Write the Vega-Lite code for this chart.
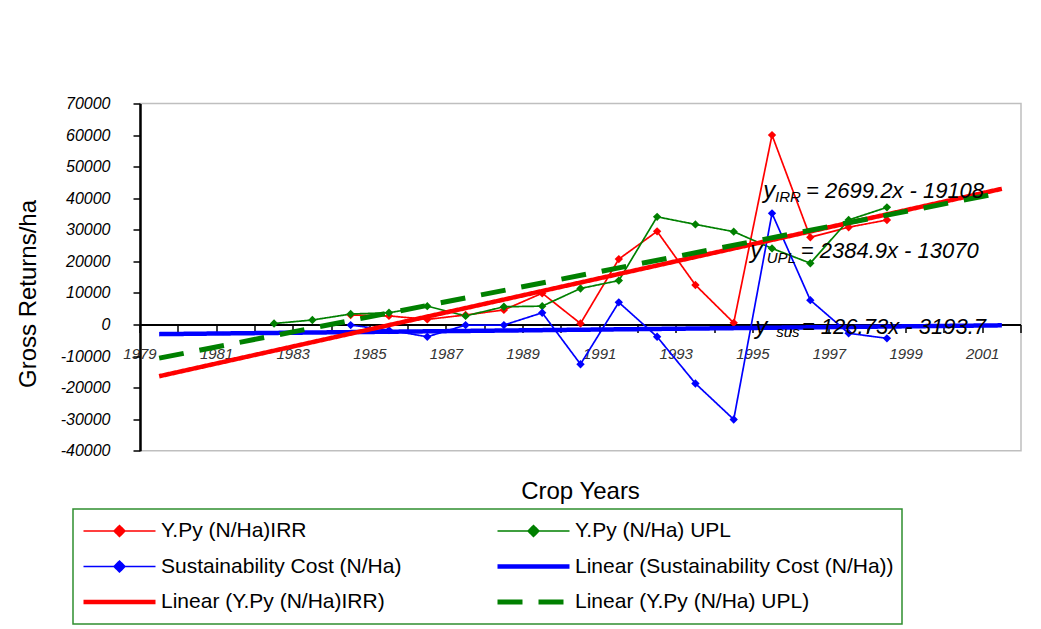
{
  "$schema": "https://vega.github.io/schema/vega-lite/v6.json",
  "width": 881,
  "height": 347.2,
  "autosize": {"type": "none"},
  "padding": {"left": 140, "top": 103.5, "right": 20, "bottom": 178.3},
  "background": "white",
  "config": {
    "view": {"stroke": "#bfbfbf", "strokeWidth": 1.5},
    "font": "Liberation Sans",
    "legend": {"strokeWidth": 1.5}
  },
  "datasets": {
    "obs": [
      {"year": 1984, "series": "Y.Py (N/Ha)IRR", "value": 3000},
      {"year": 1985, "series": "Y.Py (N/Ha)IRR", "value": 2700},
      {"year": 1986, "series": "Y.Py (N/Ha)IRR", "value": 1600},
      {"year": 1987, "series": "Y.Py (N/Ha)IRR", "value": 3000},
      {"year": 1988, "series": "Y.Py (N/Ha)IRR", "value": 4600},
      {"year": 1989, "series": "Y.Py (N/Ha)IRR", "value": 9900},
      {"year": 1990, "series": "Y.Py (N/Ha)IRR", "value": 300},
      {"year": 1991, "series": "Y.Py (N/Ha)IRR", "value": 20700},
      {"year": 1992, "series": "Y.Py (N/Ha)IRR", "value": 29500},
      {"year": 1993, "series": "Y.Py (N/Ha)IRR", "value": 12500},
      {"year": 1994, "series": "Y.Py (N/Ha)IRR", "value": 500},
      {"year": 1995, "series": "Y.Py (N/Ha)IRR", "value": 60000},
      {"year": 1996, "series": "Y.Py (N/Ha)IRR", "value": 27600},
      {"year": 1997, "series": "Y.Py (N/Ha)IRR", "value": 30800},
      {"year": 1998, "series": "Y.Py (N/Ha)IRR", "value": 33100},
      {"year": 1982, "series": "Y.Py (N/Ha) UPL", "value": 300},
      {"year": 1983, "series": "Y.Py (N/Ha) UPL", "value": 1400},
      {"year": 1984, "series": "Y.Py (N/Ha) UPL", "value": 3300},
      {"year": 1985, "series": "Y.Py (N/Ha) UPL", "value": 3700},
      {"year": 1986, "series": "Y.Py (N/Ha) UPL", "value": 5800},
      {"year": 1987, "series": "Y.Py (N/Ha) UPL", "value": 2700},
      {"year": 1988, "series": "Y.Py (N/Ha) UPL", "value": 5600},
      {"year": 1989, "series": "Y.Py (N/Ha) UPL", "value": 5800},
      {"year": 1990, "series": "Y.Py (N/Ha) UPL", "value": 11400},
      {"year": 1991, "series": "Y.Py (N/Ha) UPL", "value": 13900},
      {"year": 1992, "series": "Y.Py (N/Ha) UPL", "value": 34100},
      {"year": 1993, "series": "Y.Py (N/Ha) UPL", "value": 31700},
      {"year": 1994, "series": "Y.Py (N/Ha) UPL", "value": 29400},
      {"year": 1995, "series": "Y.Py (N/Ha) UPL", "value": 24100},
      {"year": 1996, "series": "Y.Py (N/Ha) UPL", "value": 19400},
      {"year": 1997, "series": "Y.Py (N/Ha) UPL", "value": 33100},
      {"year": 1998, "series": "Y.Py (N/Ha) UPL", "value": 37100},
      {"year": 1984, "series": "Sustainability Cost (N/Ha)", "value": -200},
      {"year": 1985, "series": "Sustainability Cost (N/Ha)", "value": -1800},
      {"year": 1986, "series": "Sustainability Cost (N/Ha)", "value": -3900},
      {"year": 1987, "series": "Sustainability Cost (N/Ha)", "value": -200},
      {"year": 1988, "series": "Sustainability Cost (N/Ha)", "value": -200},
      {"year": 1989, "series": "Sustainability Cost (N/Ha)", "value": 3700},
      {"year": 1990, "series": "Sustainability Cost (N/Ha)", "value": -12600},
      {"year": 1991, "series": "Sustainability Cost (N/Ha)", "value": 7000},
      {"year": 1992, "series": "Sustainability Cost (N/Ha)", "value": -3900},
      {"year": 1993, "series": "Sustainability Cost (N/Ha)", "value": -18700},
      {"year": 1994, "series": "Sustainability Cost (N/Ha)", "value": -30100},
      {"year": 1995, "series": "Sustainability Cost (N/Ha)", "value": 35200},
      {"year": 1996, "series": "Sustainability Cost (N/Ha)", "value": 7700},
      {"year": 1997, "series": "Sustainability Cost (N/Ha)", "value": -2800},
      {"year": 1998, "series": "Sustainability Cost (N/Ha)", "value": -4400}
    ],
    "trendSolid": [
      {"year": 1979, "series": "Linear (Sustainability Cost (N/Ha))", "value": -3067},
      {"year": 2001, "series": "Linear (Sustainability Cost (N/Ha))", "value": -279},
      {"year": 1979, "series": "Linear (Y.Py (N/Ha)IRR)", "value": -16409},
      {"year": 2001, "series": "Linear (Y.Py (N/Ha)IRR)", "value": 42974}
    ],
    "trendDash": [
      {"year": 1979, "series": "Linear (Y.Py (N/Ha) UPL)", "value": -10685},
      {"year": 2001, "series": "Linear (Y.Py (N/Ha) UPL)", "value": 41783}
    ],
    "eqY": [
      {"x": 1994.77, "y": 40000, "t": "y"},
      {"x": 1994.43, "y": 21000, "t": "y"},
      {"x": 1994.56, "y": -3000, "t": "y"}
    ],
    "eqSub": [
      {"x": 1995.08, "y": 38800, "t": "IRR"},
      {"x": 1994.86, "y": 19500, "t": "UPL"},
      {"x": 1995.11, "y": -4000, "t": "sus"}
    ],
    "eqRest": [
      {"x": 1995.89, "y": 40000, "t": "= 2699.2x - 19108"},
      {"x": 1995.75, "y": 21000, "t": "= 2384.9x - 13070"},
      {"x": 1995.78, "y": -3000, "t": "= 126.73x - 3193.7"}
    ]
  },
  "encoding": {
    "x": {
      "field": "year",
      "type": "quantitative",
      "scale": {"domain": [1978.5, 2001.5], "nice": false, "zero": false},
      "axis": {
        "values": [1978.5, 1979.5, 1980.5, 1981.5, 1982.5, 1983.5, 1984.5, 1985.5, 1986.5, 1987.5, 1988.5, 1989.5, 1990.5, 1991.5, 1992.5, 1993.5, 1994.5, 1995.5, 1996.5, 1997.5, 1998.5, 1999.5, 2000.5, 2001.5],
        "labelExpr": "(datum.value + 0.5) % 2 === 1 ? toString(datum.value + 0.5) : ''",
        "translate": -125.75,
        "position": 125.75,
        "tickSize": 8,
        "tickWidth": 1.5,
        "tickColor": "black",
        "domainColor": "black",
        "domainWidth": 2,
        "labelPadding": 14,
        "labelDx": -4.5,
        "labelFontStyle": "italic",
        "labelFontSize": 15,
        "labelColor": "#333333",
        "labelOverlap": false,
        "labelFlush": false,
        "labelBound": false,
        "grid": false,
        "title": "Crop Years",
        "titleFontSize": 24,
        "titleFontWeight": "normal",
        "titleColor": "black",
        "titleBaseline": "alphabetic",
        "titleY": 174
      }
    },
    "y": {
      "field": "value",
      "type": "quantitative",
      "scale": {"domain": [-40000, 70000], "nice": false, "zero": false},
      "axis": {
        "values": [-40000, -30000, -20000, -10000, 0, 10000, 20000, 30000, 40000, 50000, 60000, 70000],
        "labelExpr": "toString(datum.value)",
        "tickSize": 7,
        "tickWidth": 1.5,
        "tickColor": "black",
        "domainColor": "black",
        "domainWidth": 2.5,
        "labelPadding": 23,
        "labelFontStyle": "italic",
        "labelFontSize": 16,
        "labelColor": "black",
        "grid": false,
        "title": "Gross Returns/ha",
        "titleFontSize": 24,
        "titleFontWeight": "normal",
        "titleColor": "black",
        "titleBaseline": "middle",
        "titleX": -112,
        "titleY": 190
      }
    },
    "color": {
      "field": "series",
      "type": "nominal",
      "scale": {
        "domain": ["Y.Py (N/Ha)IRR", "Sustainability Cost (N/Ha)", "Linear (Y.Py (N/Ha)IRR)", "Y.Py (N/Ha) UPL", "Linear (Sustainability Cost (N/Ha))", "Linear (Y.Py (N/Ha) UPL)"],
        "range": ["#ff0000", "#0000ff", "#ff0000", "#008000", "#0000ff", "#008000"]
      },
      "legend": {
        "orient": "none",
        "legendX": -67,
        "legendY": 405.5,
        "columns": 2,
        "title": null,
        "strokeColor": "#2f8f2f",
        "fillColor": "white",
        "padding": 8,
        "clipHeight": 28,
        "rowPadding": 7.5,
        "columnPadding": 93,
        "symbolSize": 5184,
        "labelFontSize": 21,
        "labelFont": "Liberation Sans",
        "labelColor": "black",
        "labelOffset": 3,
        "labelLimit": 0,
        "encode": {
          "symbols": {
            "update": {
              "shape": {"signal": "indexof(datum.value, 'Linear') === 0 ? 'M-1,0H1' : 'M-1,0H1M0,-0.15L0.15,0L0,0.15L-0.15,0Z'"},
              "stroke": {"signal": "scale('color', datum.value)"},
              "fill": {"signal": "scale('color', datum.value)"}
            }
          }
        }
      }
    },
    "strokeWidth": {
      "field": "series",
      "type": "nominal",
      "scale": {
        "type": "ordinal",
        "domain": ["Y.Py (N/Ha)IRR", "Sustainability Cost (N/Ha)", "Linear (Y.Py (N/Ha)IRR)", "Y.Py (N/Ha) UPL", "Linear (Sustainability Cost (N/Ha))", "Linear (Y.Py (N/Ha) UPL)"],
        "range": [1.7, 1.7, 4.5, 1.7, 4.5, 5]
      },
      "legend": {"title": null}
    },
    "strokeDash": {
      "field": "series",
      "type": "nominal",
      "scale": {
        "domain": ["Y.Py (N/Ha)IRR", "Sustainability Cost (N/Ha)", "Linear (Y.Py (N/Ha)IRR)", "Y.Py (N/Ha) UPL", "Linear (Sustainability Cost (N/Ha))", "Linear (Y.Py (N/Ha) UPL)"],
        "range": [[1, 0], [1, 0], [1, 0], [1, 0], [1, 0], [25, 16]]
      },
      "legend": {"title": null}
    }
  },
  "layer": [
    {
      "data": {"name": "obs"},
      "mark": {"type": "line"}
    },
    {
      "data": {"name": "obs"},
      "mark": {"type": "point", "shape": "diamond", "size": 70, "filled": true, "opacity": 1}
    },
    {
      "data": {"name": "trendSolid"},
      "mark": {"type": "line"}
    },
    {
      "data": {"name": "trendDash"},
      "mark": {"type": "line"}
    },
    {
      "data": {"name": "eqY"},
      "mark": {"type": "text", "align": "left", "baseline": "alphabetic", "fontSize": 24, "fontStyle": "italic"},
      "encoding": {
        "x": {"field": "x", "type": "quantitative"},
        "y": {"field": "y", "type": "quantitative"},
        "text": {"field": "t"},
        "color": {"value": "black"},
        "strokeWidth": {"value": 0},
        "strokeDash": {"value": [1, 0]}
      }
    },
    {
      "data": {"name": "eqSub"},
      "mark": {"type": "text", "align": "left", "baseline": "alphabetic", "fontSize": 15, "fontStyle": "italic"},
      "encoding": {
        "x": {"field": "x", "type": "quantitative"},
        "y": {"field": "y", "type": "quantitative"},
        "text": {"field": "t"},
        "color": {"value": "black"},
        "strokeWidth": {"value": 0},
        "strokeDash": {"value": [1, 0]}
      }
    },
    {
      "data": {"name": "eqRest"},
      "mark": {"type": "text", "align": "left", "baseline": "alphabetic", "fontSize": 22, "fontStyle": "italic"},
      "encoding": {
        "x": {"field": "x", "type": "quantitative"},
        "y": {"field": "y", "type": "quantitative"},
        "text": {"field": "t"},
        "color": {"value": "black"},
        "strokeWidth": {"value": 0},
        "strokeDash": {"value": [1, 0]}
      }
    }
  ]
}
